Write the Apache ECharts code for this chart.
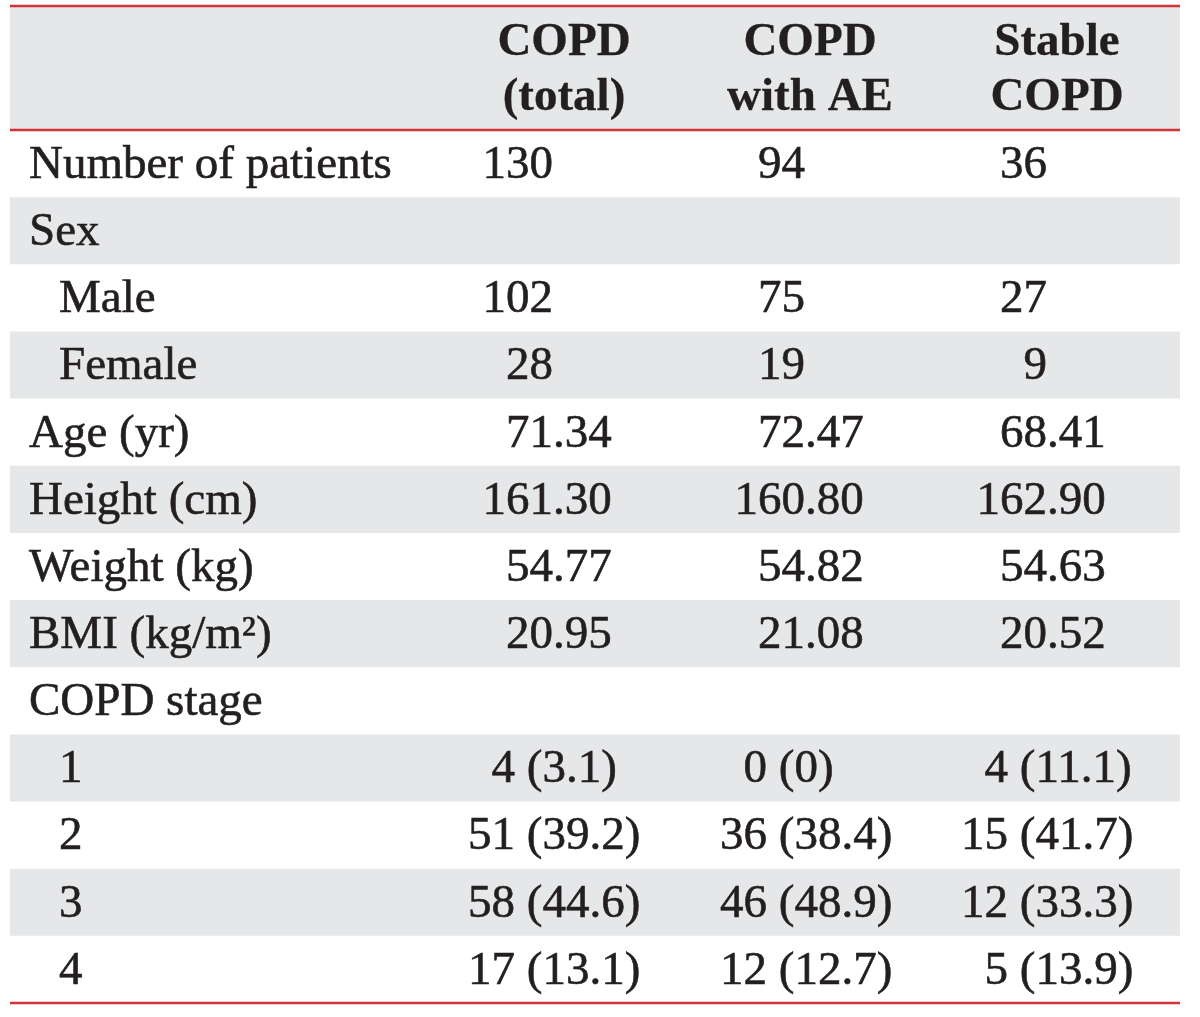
<!DOCTYPE html>
<html>
<head>
<meta charset="utf-8">
<script src="https://cdn.jsdelivr.net/npm/echarts@6/dist/echarts.min.js"></script>
<style>
  html, body { margin: 0; padding: 0; background: #ffffff; }
  #chart { width: 1200px; height: 1017px; }
</style>
</head>
<body>
<div id="chart"></div>
<script>
// ---- data ----
var headers = ["COPD\n(total)", "COPD\nwith AE", "Stable\nCOPD"];
var rowLabels = ["Number of patients", "Sex", "Male", "Female", "Age (yr)", "Height (cm)",
  "Weight (kg)", "BMI (kg/m\u00B2)", "COPD stage", "1", "2", "3", "4"];
var indented = [false, false, true, true, false, false, false, false, false, true, true, true, true];
var copdTotal = ["130", "", "102", "28", "71.34", "161.30", "54.77", "20.95", "", "4 (3.1)", "51 (39.2)", "58 (44.6)", "17 (13.1)"];
var copdWithAE = ["94", "", "75", "19", "72.47", "160.80", "54.82", "21.08", "", "0 (0)", "36 (38.4)", "46 (48.9)", "12 (12.7)"];
var stableCopd = ["36", "", "27", "9", "68.41", "162.90", "54.63", "20.52", "", "4 (11.1)", "15 (41.7)", "12 (33.3)", "5 (13.9)"];
var columns = [copdTotal, copdWithAE, stableCopd];

// ---- layout / style (table geometry in axis units) ----
var layout = {
  width: 1170,
  headerSpan: 1.846,
  labelX: 19,
  indentX: 49,
  headerCenters: [554, 800, 1047],
  numAnchors: [543, 795, 1037],
  stageAnchors: [505, 757, 998]
};
var FONT = '"Liberation Serif", "Times New Roman", serif';
var TEXT = '#231f20';
var GRAY = '#e6e7e8';
var RED = '#d2323a';
var FS = 47;
var DY = 2;

function splitCell(s) {
  var m = s.match(/^(\d+)(.*)$/);
  if (!m) return [s, ''];
  return [m[1], m[2]];
}

function txt(text, x, y, align, bold) {
  return {
    type: 'text',
    style: {
      text: text, x: x, y: y,
      font: (bold ? 'bold ' : '') + FS + 'px ' + FONT,
      fill: TEXT, stroke: TEXT, lineWidth: bold ? 0.3 : 0.6,
      align: align, verticalAlign: 'middle', lineHeight: 55
    }
  };
}

var chart = echarts.init(document.getElementById('chart'), null, { renderer: 'canvas' });

var rowData = rowLabels.map(function (l, i) { return [i]; });

chart.setOption({
  animation: false,
  grid: { left: 10, right: 20, top: 6, bottom: 14 },
  xAxis: { type: 'value', min: 0, max: layout.width, show: false },
  yAxis: { type: 'value', min: -layout.headerSpan, max: rowLabels.length, inverse: true, show: false },
  series: [
    {
      type: 'custom',
      name: 'rows',
      data: rowData,
      renderItem: function (params, api) {
        var i = params.dataIndex;
        var tl = api.coord([0, i]);
        var br = api.coord([layout.width, i + 1]);
        var cy = (tl[1] + br[1]) / 2 + DY;
        var children = [];
        if (i % 2 === 1) {
          children.push({ type: 'rect', shape: { x: tl[0], y: tl[1], width: br[0] - tl[0], height: br[1] - tl[1] }, style: { fill: GRAY } });
        }
        var lx = api.coord([indented[i] ? layout.indentX : layout.labelX, i])[0];
        children.push(txt(rowLabels[i], lx, cy, 'left'));
        var isStage = /\(/.test(copdTotal[i]);
        for (var c = 0; c < 3; c++) {
          var parts = splitCell(columns[c][i]);
          if (!parts[0] && !parts[1]) continue;
          var ax = api.coord([isStage ? layout.stageAnchors[c] : layout.numAnchors[c], i])[0];
          children.push(txt(parts[0], ax, cy, 'right'));
          if (parts[1]) children.push(txt(parts[1], ax, cy, 'left'));
        }
        return { type: 'group', children: children };
      }
    },
    {
      type: 'custom',
      name: 'header',
      data: [[0]],
      renderItem: function (params, api) {
        var tl = api.coord([0, -layout.headerSpan]);
        var br = api.coord([layout.width, 0]);
        var bot = api.coord([layout.width, rowLabels.length]);
        var cy = (tl[1] + br[1]) / 2;
        var children = [
          { type: 'rect', shape: { x: tl[0], y: tl[1], width: br[0] - tl[0], height: br[1] - tl[1] }, style: { fill: GRAY } }
        ];
        for (var c = 0; c < 3; c++) {
          var hx = api.coord([layout.headerCenters[c], 0])[0];
          children.push(txt(headers[c], hx, cy + 2, 'center', true));
        }
        [tl[1], br[1], bot[1]].forEach(function (y) {
          children.push({ type: 'line', shape: { x1: tl[0], y1: y, x2: br[0], y2: y }, style: { stroke: RED, lineWidth: 2.5 } });
        });
        return { type: 'group', children: children };
      }
    }
  ]
});
</script>
</body>
</html>
